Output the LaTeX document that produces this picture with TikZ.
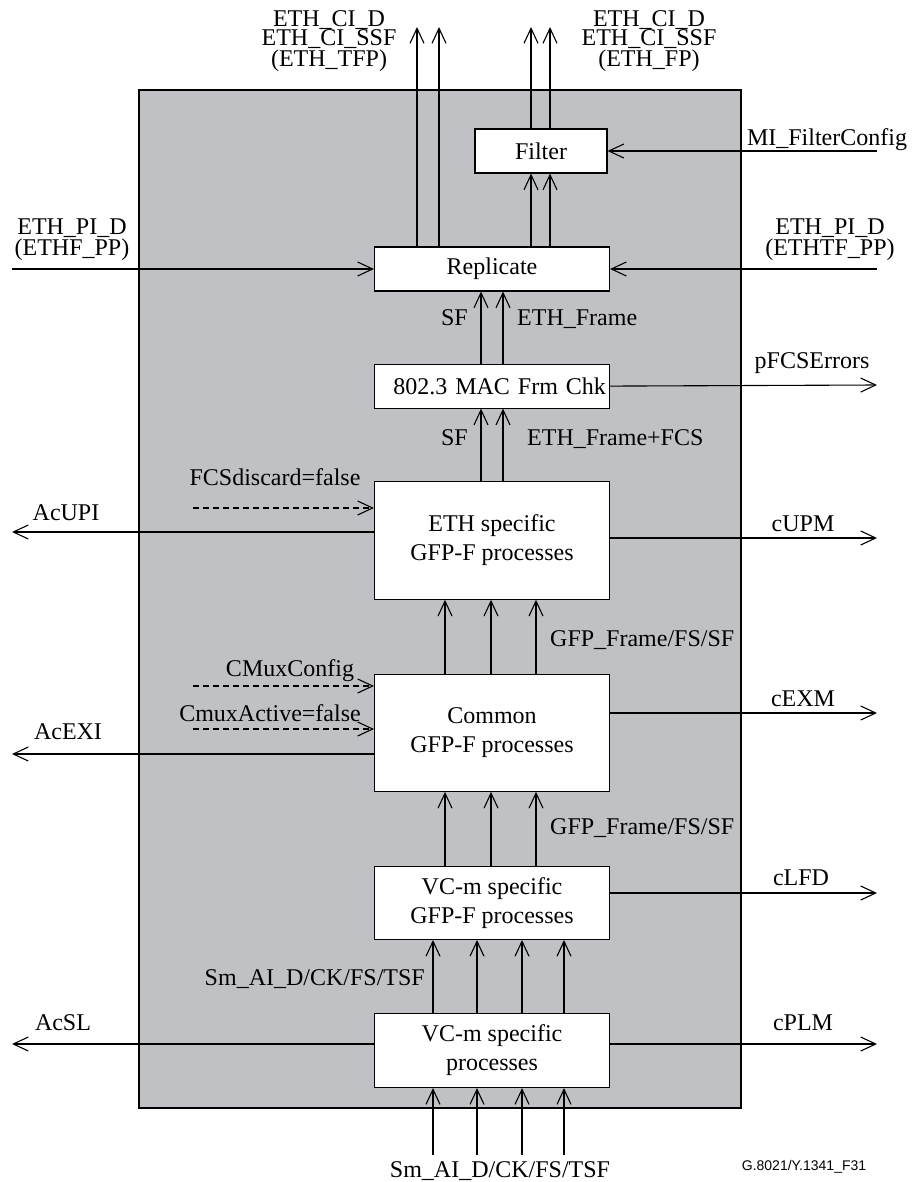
\documentclass[tikz,border=0pt]{standalone}
\usepackage{fontspec}
\setmainfont{Liberation Serif}
\newfontfamily\figfont{Liberation Sans}
\usetikzlibrary{arrows.meta}
\usetikzlibrary{positioning}
\usetikzlibrary{calc}
\definecolor{panelgray}{RGB}{192,193,197}
\tikzstyle{block} = [draw, rectangle, fill = white, line width = 1.1pt, minimum width = 235pt, align = center]
\tikzstyle{arrow} = [line width = 1.1pt, -{Straight Barb[length = 15pt, width = 14pt]}]
\tikzstyle{dasharrow} = [arrow, dash pattern = on 6pt off 4pt]
\tikzstyle{lbl} = [inner sep = 0pt, text height = 16pt, text depth = 0pt]

\begin{document}
\begin{tikzpicture}[x = 1pt, y = -1pt, font = \fontsize{24}{29}\selectfont]
	\useasboundingbox (0,0) rectangle (918,1182);
	
	% Grey function panel
	\draw[fill = panelgray, line width = 1.1pt] (139,90) rectangle (741,1108);
	
	% Process blocks
	\node[block, minimum height = 44pt] (repl) at (492,269) {Replicate};
	\node[block, minimum width = 132pt, minimum height = 44pt] (filter) at (541,151) {Filter};
	\node[block, minimum height = 44pt, text width = 228pt, inner xsep = 3pt, align = right, below = 72pt of repl] (mac) {802.3 MAC Frm Chk};
	\node[block, minimum height = 118pt, below = 72pt of mac] (eth) {ETH specific\\GFP-F processes};
	\node[block, minimum height = 117pt, below = 74pt of eth] (common) {Common\\GFP-F processes};
	\node[block, minimum height = 73pt, below = 74pt of common] (vcgfp) {VC-m specific\\GFP-F processes};
	\node[block, minimum height = 74pt, below = 73pt of vcgfp] (vcm) {VC-m specific\\processes};
	
	% Outputs at the top
	\coordinate (ciL1) at (417,27);
	\coordinate (ciL2) at (439,27);
	\coordinate (ciR1) at (531,27);
	\coordinate (ciR2) at (550,27);
	\node[align = center, font = \fontsize{24}{19}\selectfont] (ciLlbl) at (329,41) {ETH\_CI\_D\\ETH\_CI\_SSF\\(ETH\_TFP)};
	\node[align = center, font = \fontsize{24}{19}\selectfont] (ciRlbl) at (649,41) {ETH\_CI\_D\\ETH\_CI\_SSF\\(ETH\_FP)};
	\draw[arrow] (ciL1 |- repl.north) -- (ciL1);
	\draw[arrow] (ciL2 |- repl.north) -- (ciL2);
	\draw[arrow] (ciR1 |- filter.north) -- (ciR1);
	\draw[arrow] (ciR2 |- filter.north) -- (ciR2);
	\draw[arrow] (ciR1 |- repl.north) -- (ciR1 |- filter.south);
	\draw[arrow] (ciR2 |- repl.north) -- (ciR2 |- filter.south);
	
	% Filter configuration
	\coordinate (mi) at (877,151);
	\node[lbl] (milbl) at (827,138) {MI\_FilterConfig};
	\draw[arrow] (mi) -- (filter.east);
	
	% Replicate inputs
	\coordinate (piL) at (12,269);
	\coordinate (piR) at (877,269);
	\node[align = center, font = \fontsize{24}{21}\selectfont] (piLlbl) at (72,240) {ETH\_PI\_D\\(ETHF\_PP)};
	\node[align = center, font = \fontsize{24}{21}\selectfont] (piRlbl) at (830,240) {ETH\_PI\_D\\(ETHTF\_PP)};
	\draw[arrow] (piL) -- (repl.west);
	\draw[arrow] (piR) -- (repl.east);
	
	% MAC frame check
	\coordinate (sfx) at (481,317);
	\coordinate (frx) at (503,317);
	\node[lbl, anchor = east] (sf1) at (468,317) {SF};
	\node[lbl, anchor = west] (fr1) at (517,317) {ETH\_Frame};
	\node[lbl, anchor = east] (sf2) at (468,437) {SF};
	\node[lbl, anchor = west] (fr2) at (527,437) {ETH\_Frame+FCS};
	\draw[arrow] (sfx |- mac.north) -- (sfx |- repl.south);
	\draw[arrow] (frx |- mac.north) -- (frx |- repl.south);
	\draw[arrow] (sfx |- eth.north) -- (sfx |- mac.south);
	\draw[arrow] (frx |- eth.north) -- (frx |- mac.south);
	\coordinate (fcserr) at (877,385);
	\node[lbl] (fcserrlbl) at (812,360) {pFCSErrors};
	\draw[arrow] (mac.east) -- (fcserr);
	
	% ETH specific GFP-F
	\coordinate (fcsd) at (193,508);
	\node[lbl] (fcsdlbl) at (275,477) {FCSdiscard=false};
	\draw[dasharrow] (fcsd) -- (fcsd -| eth.west);
	\coordinate (acupi) at (12,532);
	\node[lbl] (acupilbl) at (66,512) {AcUPI};
	\draw[arrow] (acupi -| eth.west) -- (acupi);
	\coordinate (cupm) at (877,538);
	\node[lbl] (cupmlbl) at (803,523) {cUPM};
	\draw[arrow] (cupm -| eth.east) -- (cupm);
	
	% Common GFP-F
	\coordinate (gA) at (445,0);
	\coordinate (gB) at (491,0);
	\coordinate (gC) at (536,0);
	\draw[arrow] (gA |- common.north) -- (gA |- eth.south);
	\draw[arrow] (gB |- common.north) -- (gB |- eth.south);
	\draw[arrow] (gC |- common.north) -- (gC |- eth.south);
	\node[lbl, anchor = west] (gfp1) at (550,638) {GFP\_Frame/FS/SF};
	\coordinate (cmuxc) at (193,686);
	\coordinate (cmuxa) at (193,729);
	\node[lbl] (cmuxclbl) at (290,668) {CMuxConfig};
	\node[lbl] (cmuxalbl) at (270,713) {CmuxActive=false};
	\draw[dasharrow] (cmuxc) -- (cmuxc -| common.west);
	\draw[dasharrow] (cmuxa) -- (cmuxa -| common.west);
	\coordinate (acexi) at (12,754);
	\node[lbl] (acexilbl) at (68,731) {AcEXI};
	\draw[arrow] (acexi -| common.west) -- (acexi);
	\coordinate (cexm) at (877,713);
	\node[lbl] (cexmlbl) at (803,698) {cEXM};
	\draw[arrow] (cexm -| common.east) -- (cexm);
	
	% VC-m specific GFP-F
	\draw[arrow] (gA |- vcgfp.north) -- (gA |- common.south);
	\draw[arrow] (gB |- vcgfp.north) -- (gB |- common.south);
	\draw[arrow] (gC |- vcgfp.north) -- (gC |- common.south);
	\node[lbl, anchor = west] (gfp2) at (550,826) {GFP\_Frame/FS/SF};
	\coordinate (clfd) at (877,893);
	\node[lbl] (clfdlbl) at (801,877) {cLFD};
	\draw[arrow] (clfd -| vcgfp.east) -- (clfd);
	
	% VC-m specific processes
	\coordinate (sA) at (433,1155);
	\coordinate (sB) at (477,1155);
	\coordinate (sC) at (522,1155);
	\coordinate (sD) at (564,1155);
	\draw[arrow] (sA |- vcm.north) -- (sA |- vcgfp.south);
	\draw[arrow] (sB |- vcm.north) -- (sB |- vcgfp.south);
	\draw[arrow] (sC |- vcm.north) -- (sC |- vcgfp.south);
	\draw[arrow] (sD |- vcm.north) -- (sD |- vcgfp.south);
	\node[lbl, anchor = east] (smlbl) at (425,977) {Sm\_AI\_D/CK/FS/TSF};
	\coordinate (acsl) at (12,1044);
	\node[lbl] (acsllbl) at (63,1022) {AcSL};
	\draw[arrow] (acsl -| vcm.west) -- (acsl);
	\coordinate (cplm) at (877,1044);
	\node[lbl] (cplmlbl) at (803,1022) {cPLM};
	\draw[arrow] (cplm -| vcm.east) -- (cplm);
	
	% Inputs at the bottom
	\draw[arrow] (sA) -- (sA |- vcm.south);
	\draw[arrow] (sB) -- (sB |- vcm.south);
	\draw[arrow] (sC) -- (sC |- vcm.south);
	\draw[arrow] (sD) -- (sD |- vcm.south);
	\node[lbl] (sminlbl) at (500,1169) {Sm\_AI\_D/CK/FS/TSF};
	
	% Figure number
	\node[anchor = base, inner sep = 0pt, font = \figfont\fontsize{14}{16}\selectfont] (fignum) at (804,1170) {G.8021/Y.1341\_F31};
	
\end{tikzpicture}
\end{document}
